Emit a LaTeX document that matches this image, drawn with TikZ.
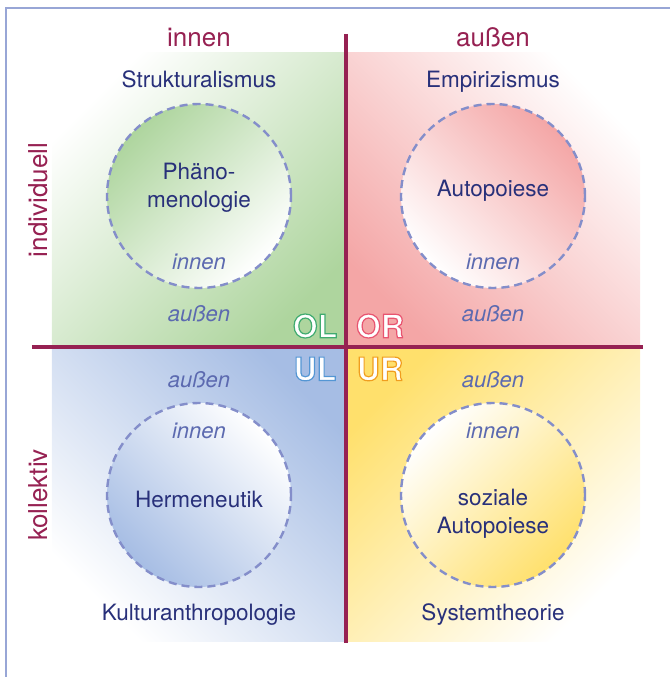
\documentclass[tikz,border=0pt]{standalone}
\usepackage{fontspec}
\setmainfont{TeX Gyre Heros}
\usetikzlibrary{positioning}
\definecolor{Achse}{RGB}{150,33,82}
\definecolor{Schule}{RGB}{40,48,122}
\definecolor{Lage}{RGB}{92,106,176}
\definecolor{Strich}{RGB}{132,142,202}
\definecolor{Rahmen}{RGB}{152,166,214}
\definecolor{GruenQ}{RGB}{174,213,158}
\definecolor{RotQ}{RGB}{244,166,166}
\definecolor{BlauQ}{RGB}{166,189,228}
\definecolor{GelbQ}{RGB}{255,224,108}
% Umriss-Schrift (Textmodus 2: fuellen und umranden)
\newcommand{\umriss}[2]{\special{pdf:code q 2 Tr 1.2 w #1 RG}#2\special{pdf:code Q}}
\tikzset{
every node/.style={align=center,inner sep=1pt},
quad/.style={rectangle,minimum size=294pt,inner sep=0pt},
ring/.style={circle,minimum size=184pt,draw=Strich,line width=2.4pt,dash pattern=on 8pt off 5pt},
title/.style={text=Achse,font=\fontsize{26}{30}\selectfont},
school/.style={text=Schule,font=\fontsize{22.5}{28}\selectfont},
inout/.style={text=Lage,font=\fontsize{22}{26}\selectfont\itshape,anchor=base},
tag/.style={text=white,font=\fontsize{32}{34}\selectfont\bfseries},
axis/.style={draw=Achse,line width=4pt}
}

\begin{document}
\begin{tikzpicture}[x=1pt,y=1pt]
\useasboundingbox (-346,-330) rectangle (323,347);
\draw[Rahmen,line width=2pt] (-340,-340) |- (330,339);

% Quadranten
\node[quad,top color=white,bottom color=GruenQ,shading angle=45] (qol) at (-147,147) {};
\node[quad,top color=white,bottom color=RotQ,shading angle=-45] (qor) at (147,147) {};
\node[quad,top color=BlauQ,bottom color=white,shading angle=-45] (qul) at (-147,-147) {};
\node[quad,top color=GelbQ,bottom color=white,shading angle=45] (qur) at (147,-147) {};

% Kreise
\node[ring,top color=GruenQ,bottom color=white,shading angle=45] (kol) at (-147,151) {};
\node[ring,top color=RotQ,bottom color=white,shading angle=-45] (kor) at (147,151) {};
\node[ring,top color=white,bottom color=BlauQ,shading angle=-45] (kul) at (-147,-148) {};
\node[ring,top color=white,bottom color=GelbQ,shading angle=45] (kur) at (147,-148) {};

% Achsen
\coordinate (oben) at (0,313);
\coordinate (unten) at (0,-296);
\coordinate (links) at (-314,0);
\coordinate (rechts) at (297,0);
\draw[axis] (oben) -- (unten);
\draw[axis] (links) -- (rechts);

% Achsenbeschriftung
\node[title,anchor=base] (innen) at (-147,300) {innen};
\node[title,anchor=base] (aussen) at (147,300) {außen};
\node[title,rotate=90] (indiv) at (-308,147) {individuell};
\node[title,rotate=90] (kollek) at (-308,-148) {kollektiv};

% Schulen
\node[school,anchor=base] (s1) at (-147,259) {Strukturalismus};
\node[school,anchor=base] (s2) at (147,259) {Empirizismus};
\node[school,anchor=base] (s3) at (-147,-273) {Kulturanthropologie};
\node[school,anchor=base] (s4) at (147,-273) {Systemtheorie};

\node[school] (p1) at (-147,159) {Phäno-\\menologie};
\node[school,anchor=base] (p2) at (147,150) {Autopoiese};
\node[school,anchor=base] (p3) at (-147,-160) {Hermeneutik};
\node[school] (p4) at (147,-167) {soziale\\Autopoiese};

% innen/aussen
\node[inout] (i1) at (-147,77) {innen};
\node[inout] (a1) at (-147,25) {außen};
\node[inout] (i2) at (147,77) {innen};
\node[inout] (a2) at (147,25) {außen};
\node[inout] (a3) at (-147,-41) {außen};
\node[inout] (i3) at (-147,-91) {innen};
\node[inout] (a4) at (147,-41) {außen};
\node[inout] (i4) at (147,-91) {innen};

% Kuerzel
\node[tag] (ol) at (-31,21) {\umriss{0.25 0.67 0.44}{OL}};
\node[tag] (or) at (34,21) {\umriss{0.91 0.33 0.44}{OR}};
\node[tag] (ul) at (-31,-22) {\umriss{0.33 0.59 0.83}{UL}};
\node[tag] (ur) at (34,-22) {\umriss{0.94 0.62 0.12}{UR}};
\end{tikzpicture}
\end{document}
